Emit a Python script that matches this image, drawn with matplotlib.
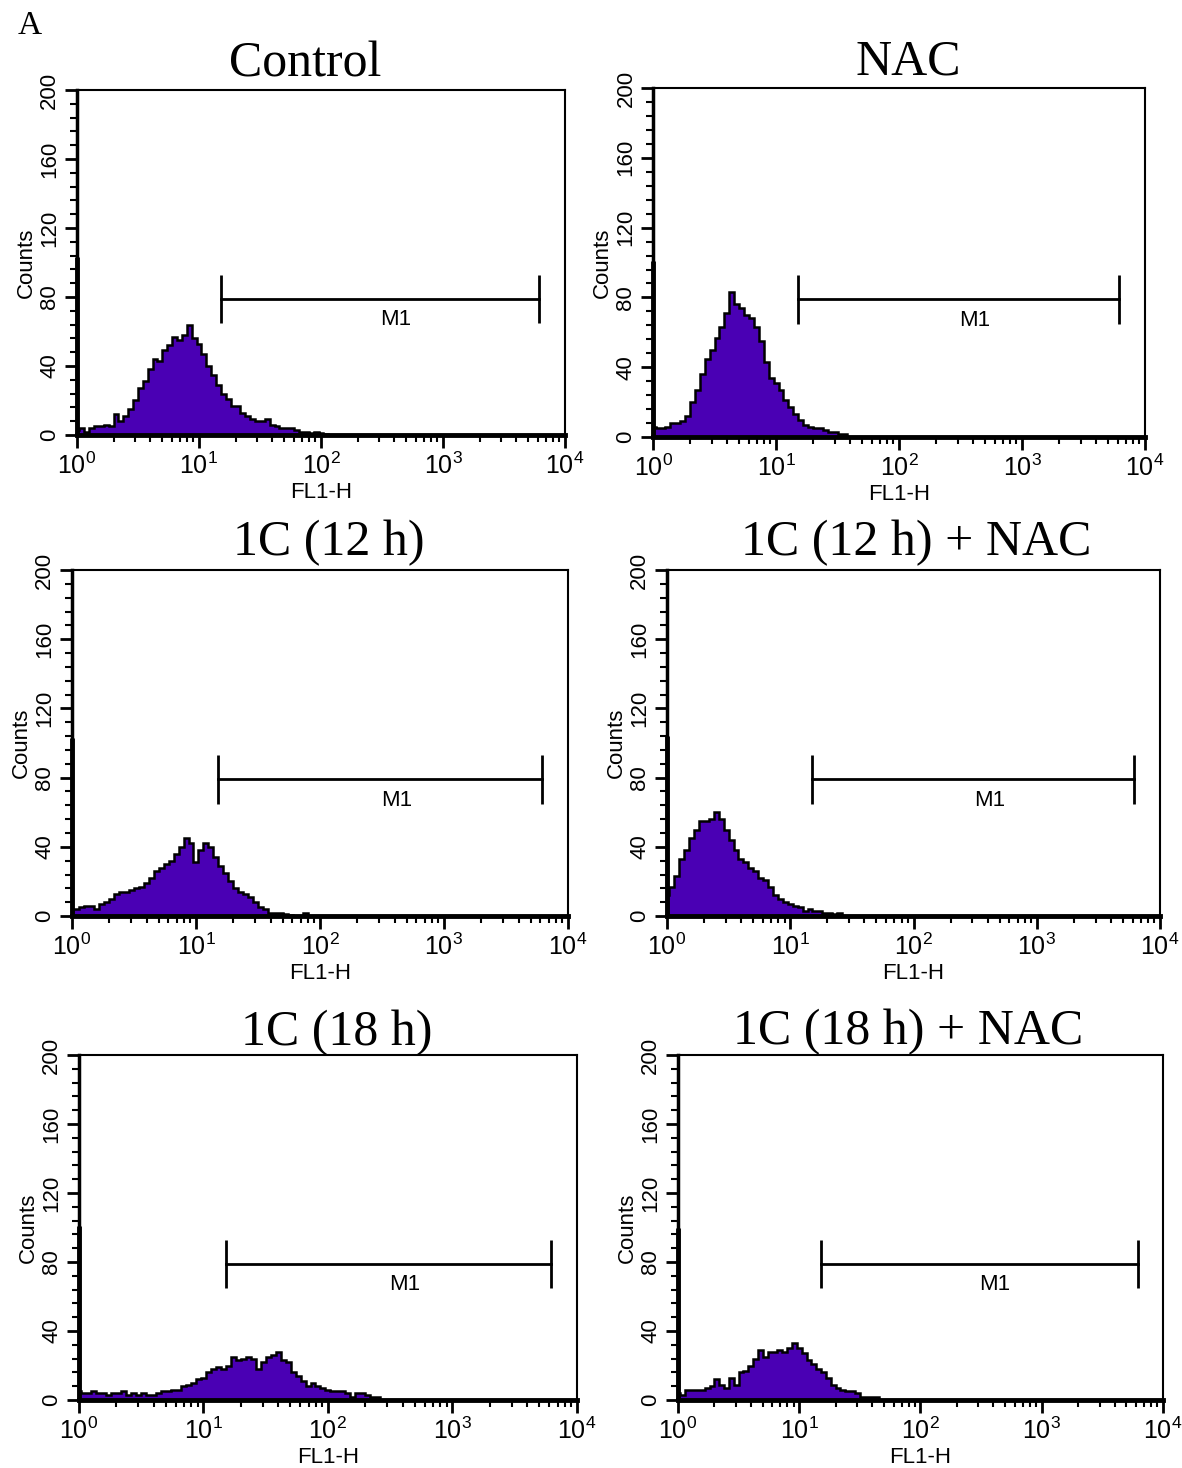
import numpy as np
import matplotlib.pyplot as plt
from matplotlib.ticker import FixedLocator, LogLocator, NullFormatter

plt.rcParams['font.family'] = ['Liberation Sans', 'DejaVu Sans']
plt.rcParams['mathtext.fontset'] = 'custom'
plt.rcParams['mathtext.rm'] = 'Liberation Sans'

# histogram channels: one value every 0.04 decade, starting at 10^0
bin_step = 0.04

titles = ['Control', 'NAC', '1C (12 h)', '1C (12 h) + NAC', '1C (18 h)', '1C (18 h) + NAC']

control = [3, 4, 2, 4, 5, 5, 6, 5, 12, 8, 11, 15, 20, 27, 31, 38, 44, 43, 49, 52,
           57, 55, 58, 64, 56, 53, 47, 40, 35, 29, 24, 21, 17, 17, 13, 11, 9, 8, 8, 9,
           6, 5, 4, 4, 4, 3, 2, 2, 1, 2, 1, 0.5]
nac = [6, 5, 5, 6, 8, 8, 9, 12, 20, 27, 36, 45, 50, 57, 63, 71, 83, 76, 74, 70,
       68, 63, 55, 43, 34, 31, 27, 21, 17, 13, 10, 7, 6, 5, 5, 4, 3, 3, 2, 2]
c12 = [4, 4, 5, 6, 6, 4, 7, 8, 10, 13, 14, 14, 15, 16, 17, 19, 22, 26, 28, 30,
       32, 36, 40, 45, 42, 31, 38, 42, 40, 34, 29, 25, 20, 16, 14, 13, 11, 8, 5, 4,
       2, 1.5, 1.5, 1, 0.5, 0, 0, 2]
c12_nac = [12, 17, 23, 33, 38, 45, 50, 55, 55, 56, 60, 56, 50, 44, 38, 33, 31, 28, 26, 22,
           21, 17, 12, 10, 8, 7, 6, 5, 3, 4, 3, 3, 2, 2, 1, 2]
c18 = [5, 4, 4, 5, 4, 4, 3, 4, 4, 5, 3, 4, 3, 4, 3, 3, 4, 5, 5, 6,
       6, 8, 9, 10, 12, 13, 16, 18, 19, 18, 20, 25, 23, 24, 25, 24, 18, 22, 25, 26,
       28, 23, 22, 16, 14, 11, 8, 10, 8, 7, 6, 5, 5, 5, 4, 2, 4, 4, 3, 2, 2]
c18_nac = [4, 3, 6, 6, 6, 6, 7, 8, 12, 9, 7, 13, 9, 16, 17, 20, 24, 29, 25, 28,
           28, 29, 28, 30, 33, 30, 27, 23, 21, 18, 16, 13, 9, 7, 6, 5, 5, 4, 1.5, 1.5,
           1.5, 1.5]

series = [control, nac, c12, c12_nac, c18, c18_nac]
first_channel = [103, 101, 103, 104, 101, 100]   # pile-up in the lowest channel

m1_range = (15.1, 6170)
m1_level = 79

# [left, bottom, width, height] and title anchor (x, y) in figure fractions
rects = [[0.0651, 0.7037, 0.4129, 0.2350], [0.5525, 0.7023, 0.4162, 0.2377],
         [0.0609, 0.3760, 0.4196, 0.2357], [0.5643, 0.3760, 0.4171, 0.2357],
         [0.0668, 0.0463, 0.4213, 0.2350], [0.5736, 0.0463, 0.4103, 0.2350]]
title_pos = [(0.258, 0.948), (0.768, 0.949), (0.278, 0.622), (0.775, 0.622),
             (0.285, 0.288), (0.768, 0.289)]

fill_color = '#4a00b4'

fig = plt.figure(figsize=(11.82, 14.68), dpi=100)
fig.text(0.015, 0.977, 'A', fontsize=24, family='Liberation Serif')

for i in range(6):
    ax = fig.add_axes(rects[i])
    vals = np.array(series[i], dtype=float)
    edges = 10 ** (np.arange(len(vals) + 1) * bin_step - bin_step / 2)
    edges[0] = 1.0
    ax.stairs(vals, edges, fill=True, color=fill_color, baseline=0)
    ax.stairs(vals, edges, color='black', lw=1.8, baseline=0)
    ax.vlines(1.0, 0, first_channel[i], color='black', lw=3.5, clip_on=False, zorder=5)

    lo, hi = m1_range
    ax.plot([lo, hi], [m1_level, m1_level], color='black', lw=2)
    ax.vlines([lo, hi], m1_level - 14, m1_level + 14, color='black', lw=2)
    ax.text(np.sqrt(lo * hi) * 1.35, m1_level - 6, 'M1', ha='center', va='top', fontsize=16)

    ax.set_xscale('log')
    ax.set_xlim(1, 1e4)
    ax.set_ylim(0, 200)
    ax.set_xticks([1, 10, 100, 1000, 10000])
    ax.set_xticklabels([r'$\mathregular{10^{%d}}$' % k for k in range(5)])
    ax.xaxis.set_minor_locator(LogLocator(base=10, subs=range(2, 10)))
    ax.xaxis.set_minor_formatter(NullFormatter())
    ax.set_yticks(range(0, 201, 40))
    ax.set_yticklabels([str(v) for v in range(0, 201, 40)], rotation=90, va='center')
    ax.yaxis.set_minor_locator(FixedLocator(range(0, 201, 8)))
    ax.tick_params(which='major', direction='out', length=9, width=2, labelsize=16, pad=3)
    ax.tick_params(which='minor', direction='out', length=5, width=1.5)
    ax.tick_params(axis='x', which='major', pad=4, labelsize=18)

    ax.spines['left'].set_linewidth(2.5)
    ax.spines['bottom'].set_linewidth(3.5)
    ax.spines['top'].set_linewidth(1.5)
    ax.spines['right'].set_linewidth(1.5)

    ax.set_xlabel('FL1-H', fontsize=16, labelpad=2)
    ax.set_ylabel('Counts', fontsize=16, labelpad=2)

    fig.text(title_pos[i][0], title_pos[i][1], titles[i], ha='center', va='baseline',
             fontsize=36, family='Liberation Serif')

fig.savefig('out.png', dpi=100, facecolor='white')
